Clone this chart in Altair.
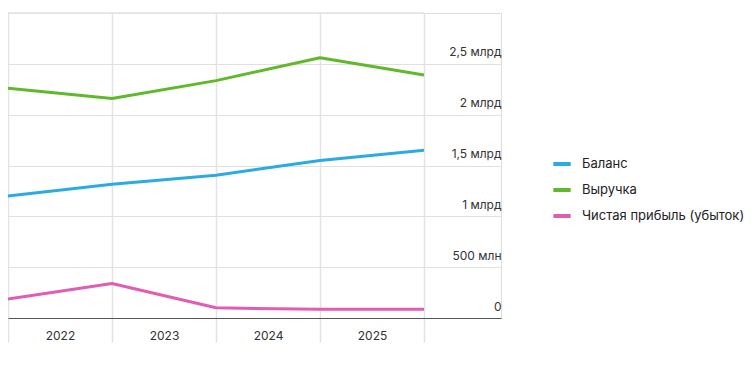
import altair as alt
import pandas as pd

years = ["2022", "2023", "2024", "2025"]
points = [0, 1, 2, 3, 4]
series_names = ["Баланс", "Выручка", "Чистая прибыль (убыток)"]
balance = [1.20e9, 1.315e9, 1.405e9, 1.55e9, 1.65e9]
revenue = [2.26e9, 2.16e9, 2.335e9, 2.56e9, 2.39e9]
net_profit = [0.187e9, 0.34e9, 0.10e9, 0.085e9, 0.087e9]
colors = ["#2BABE2", "#5FB92B", "#E05DB3"]
y_ticks = [0, 0.5e9, 1e9, 1.5e9, 2e9, 2.5e9]

rows = []
for name, vals in zip(series_names, [balance, revenue, net_profit]):
    for p, v in zip(points, vals):
        rows.append({"p": p, "v": v, "s": name})
df = pd.DataFrame(rows)

FONT = "Inter"
year_expr = "[" + ",".join("'%s'" % y for y in years) + ",''][datum.value]"
y_label_expr = ("datum.value == 0 ? '0' : (datum.value < 1e9 ? format(datum.value/1e6, 'd') + ' млн' : "
                "replace(format(datum.value/1e9, '.1~f'), '.', ',') + ' млрд')")

xscale = alt.Scale(domain=[0, 4.74], nice=False, zero=False)
yscale = alt.Scale(domain=[0, 3e9], nice=False)

lines = alt.Chart(df).mark_line(strokeWidth=3, strokeJoin="round").encode(
    x=alt.X("p:Q", scale=xscale, axis=alt.Axis(
        values=points, title=None, grid=True, gridColor="#e3e3e3", gridWidth=1.5,
        ticks=True, tickSize=24, tickColor="#e3e3e3", tickWidth=1.5,
        domain=True, domainColor="#555555", domainWidth=1,
        labelExpr=year_expr, labelOffset=52, labelPadding=-12, labelFlush=False,
        labelFont=FONT, labelFontSize=12, labelColor="#333333")),
    y=alt.Y("v:Q", scale=yscale, axis=alt.Axis(
        orient="right", values=y_ticks, title=None, grid=True, gridColor="#e0e0e0",
        ticks=False, domain=False, labelAlign="right", labelPadding=0,
        labelBaseline="bottom", labelOffset=-5, labelExpr=y_label_expr,
        labelFont=FONT, labelFontSize=12, labelColor="#333333")),
    color=alt.Color("s:N", scale=alt.Scale(domain=series_names, range=colors),
                    legend=alt.Legend(title=None, orient="none", legendX=543, legendY=140,
                                      symbolType="stroke", symbolStrokeWidth=4, symbolSize=300,
                                      labelFont=FONT, labelFontSize=13, labelColor="#222222",
                                      labelLimit=300, rowPadding=7, labelOffset=9)),
)

top_rule = alt.Chart().mark_rule(color="#e3e3e3", strokeWidth=1.5).encode(
    y=alt.datum(3e9, scale=yscale), x=alt.datum(points[0]), x2=alt.datum(points[-1]))

chart = alt.layer(top_rule, lines).properties(
    width=493, height=305,
    autosize=alt.AutoSizeParams(type="none"),
    padding={"left": 0, "top": 5, "right": 247, "bottom": 46},
).configure_view(stroke=None).configure(font=FONT)

chart.save("out.html", embed_options={"renderer": "svg", "actions": False})
